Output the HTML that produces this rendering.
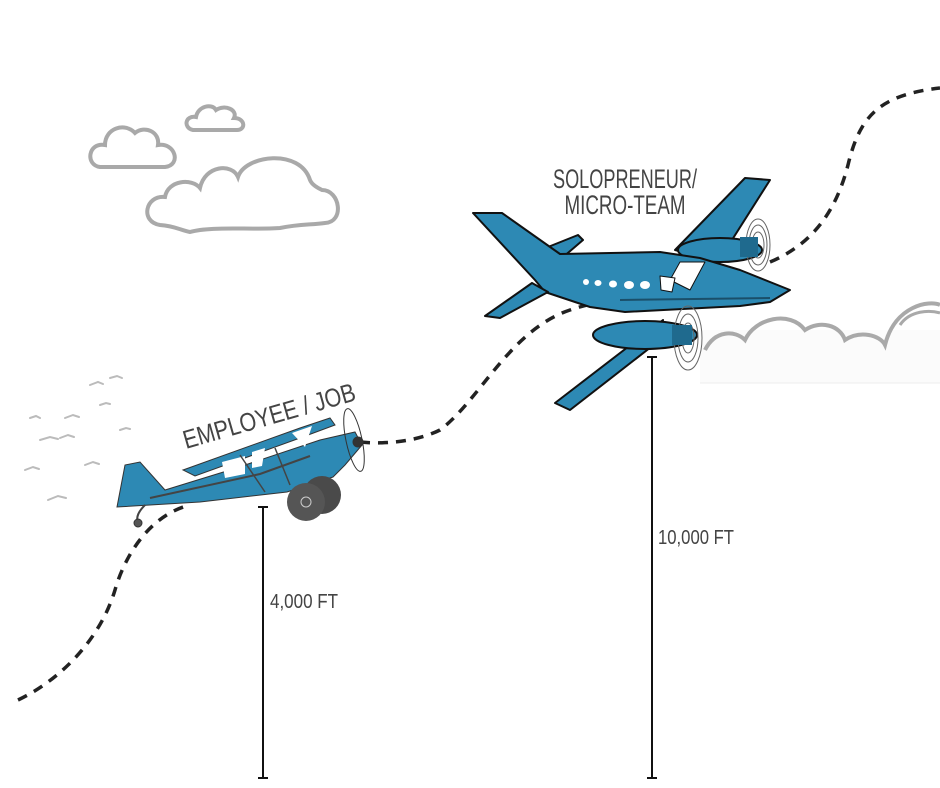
<!DOCTYPE html>
<html><head><meta charset="utf-8"><style>
html,body{margin:0;padding:0;background:#fff;}
svg{display:block}
text{font-family:"Liberation Sans Narrow","Liberation Sans",sans-serif;fill:#444;}
</style></head><body>
<svg width="940" height="788" viewBox="0 0 940 788" xmlns="http://www.w3.org/2000/svg">
<g fill="none" stroke="#a9a9a9" stroke-width="4" stroke-linecap="round">
<path d="M100,167 C85,165 88,142 105,145 C105,128 125,122 135,133 C145,125 160,132 158,145 C175,142 182,165 165,167 Z"/>
<path d="M193,130 C183,128 185,115 196,117 C198,106 212,103 216,110 C225,104 238,110 234,118 C246,118 246,131 236,130 Z"/>
<path d="M160,225 C140,222 145,195 165,197 C168,180 192,178 200,188 C205,165 232,163 238,177 C245,155 300,148 310,180 C312,185 318,188 322,190 C340,190 345,222 325,223 C310,225 300,224 280,228 C250,230 210,226 190,232 C180,230 175,226 160,225 Z"/>
</g>
<rect x="700" y="330" width="240" height="53" fill="#fbfbfb"/>
<line x1="700" y1="383" x2="940" y2="383" stroke="#eee" stroke-width="1"/>
<path d="M705,350 C715,330 735,330 745,340 C755,318 790,310 805,330 C820,320 840,325 845,340 C860,330 880,335 885,345 C895,305 930,300 940,305" fill="none" stroke="#a9a9a9" stroke-width="4"/>
<path d="M900,325 C910,310 930,310 940,313" fill="none" stroke="#a9a9a9" stroke-width="3"/>
<g fill="none" stroke="#bbb" stroke-width="2" stroke-linecap="round">
<path d="M48,500 l10,-4 l8,2"/><path d="M25,470 l8,-3 l6,2"/><path d="M40,440 l10,-3 l8,2"/><path d="M65,418 l8,-3 l6,2"/><path d="M85,465 l8,-3 l6,2"/><path d="M90,385 l8,-3 l5,2"/><path d="M110,378 l7,-2 l5,2"/><path d="M30,418 l6,-2 l4,2"/><path d="M60,438 l8,-3 l6,2"/><path d="M120,430 l6,-2 l4,1"/><path d="M100,405 l6,-2 l4,1"/>
</g>
<path d="M18,700 C60,680 100,640 115,590 C125,555 150,515 190,505 M360,442 C390,445 420,440 440,430 C480,400 510,330 570,310 C600,300 620,300 640,295 M770,262 C810,245 835,215 848,165 C860,115 880,95 940,88" fill="none" stroke="#222" stroke-width="3.5" stroke-dasharray="10,8"/>
<!-- plane 2 -->
<g stroke="#111" stroke-width="2" stroke-linejoin="round">
<path d="M663,320 L555,403 L570,410 L660,340 Z" fill="#2d89b4"/>
<ellipse cx="645" cy="335" rx="52" ry="14" fill="#2d89b4"/>
<path d="M675,250 L745,178 L770,180 L718,262 Z" fill="#2d89b4"/>
<ellipse cx="720" cy="250" rx="42" ry="12" fill="#2d89b4"/>
<path d="M548,247 L578,235 L583,240 L562,258 Z" fill="#2d89b4"/>
<path d="M473,213 L502,213 L560,254 L660,252 L700,258 L740,270 L790,290 L770,302 L740,306 L625,312 L590,307 L545,292 L535,280 Z" fill="#2d89b4"/>
<path d="M532,283 L485,316 L500,318 L548,292 Z" fill="#2d89b4"/>
<path d="M670,280 L680,262 L705,262 L690,290 Z" fill="#fff" stroke-width="1"/>
<path d="M660,276 L675,278 L672,292 L661,290 Z" fill="#fff" stroke-width="1"/>
<path d="M620,300 L770,298" stroke="#1a4f6a" stroke-width="2" fill="none"/>
</g>
<g fill="#fff"><ellipse cx="586" cy="282" rx="3" ry="3"/><ellipse cx="598" cy="283" rx="3.5" ry="3"/><ellipse cx="613" cy="284" rx="4" ry="3.5"/><ellipse cx="629" cy="285" rx="5" ry="4"/><ellipse cx="645" cy="285" rx="5" ry="4"/></g>
<g fill="none" stroke="#666" stroke-width="1">
<ellipse cx="758" cy="245" rx="12" ry="26"/><ellipse cx="758" cy="245" rx="9" ry="20"/><ellipse cx="758" cy="245" rx="6" ry="13"/>
<ellipse cx="688" cy="338" rx="14" ry="32"/><ellipse cx="688" cy="338" rx="10" ry="24"/><ellipse cx="688" cy="338" rx="6" ry="15"/>
</g>
<rect x="740" y="237" width="18" height="20" fill="#1f6a8e"/><rect x="672" y="325" width="20" height="20" fill="#1f6a8e"/>
<!-- plane 1 -->
<g stroke="#333" stroke-width="1">
<path d="M117,507 L125,465 L140,462 L165,490 L230,470 L320,440 L355,432 L362,445 L345,465 L333,477 L287,492 L200,502 Z" fill="#2d89b4"/>
<path d="M183,470 L300,428 L330,418 L335,425 L300,438 L195,476 Z" fill="#2d89b4"/>
<path d="M222,462 L245,456 L245,474 L225,478 Z" fill="#fff" stroke="none"/>
<path d="M252,452 L265,448 L262,466 L252,468 Z" fill="#fff" stroke="none"/>
<path d="M292,433 L312,426 L305,447 Z" fill="#fff" stroke="none"/>
<path d="M150,498 L260,474 L310,456" fill="none" stroke="#444" stroke-width="2"/>
<path d="M240,455 L265,492 M275,448 L290,485" stroke="#444" stroke-width="1.5"/>
<ellipse cx="354" cy="440" rx="8" ry="32" transform="rotate(-12 354 440)" fill="none" stroke="#333"/>
<circle cx="358" cy="442" r="5" fill="#333"/>
<circle cx="322" cy="495" r="19" fill="#4a4a4a" stroke="none"/>
<circle cx="306" cy="502" r="19" fill="#555" stroke="none"/>
<circle cx="306" cy="502" r="5" fill="none" stroke="#ccc"/>
<path d="M145,505 C138,512 136,518 138,522" fill="none" stroke="#444" stroke-width="2"/>
<circle cx="138" cy="523" r="4" fill="#555"/>
</g>
<g stroke="#111" stroke-width="2">
<line x1="263" y1="507" x2="263" y2="778"/><line x1="258" y1="507" x2="268" y2="507"/><line x1="258" y1="778" x2="268" y2="778"/>
<line x1="652" y1="357" x2="652" y2="778"/><line x1="647" y1="357" x2="657" y2="357"/><line x1="647" y1="778" x2="657" y2="778"/>
</g>
<text x="625" y="188" font-size="27" text-anchor="middle" textLength="144" lengthAdjust="spacingAndGlyphs">SOLOPRENEUR/</text>
<text x="625" y="214" font-size="27" text-anchor="middle" textLength="121" lengthAdjust="spacingAndGlyphs">MICRO-TEAM</text>
<text x="0" y="0" font-size="26" transform="translate(186,449) rotate(-16)" textLength="178" lengthAdjust="spacingAndGlyphs">EMPLOYEE / JOB</text>
<text x="270" y="608" font-size="20" textLength="68" lengthAdjust="spacingAndGlyphs">4,000 FT</text>
<text x="658" y="544" font-size="20" textLength="76" lengthAdjust="spacingAndGlyphs">10,000 FT</text>
</svg>
</body></html>
